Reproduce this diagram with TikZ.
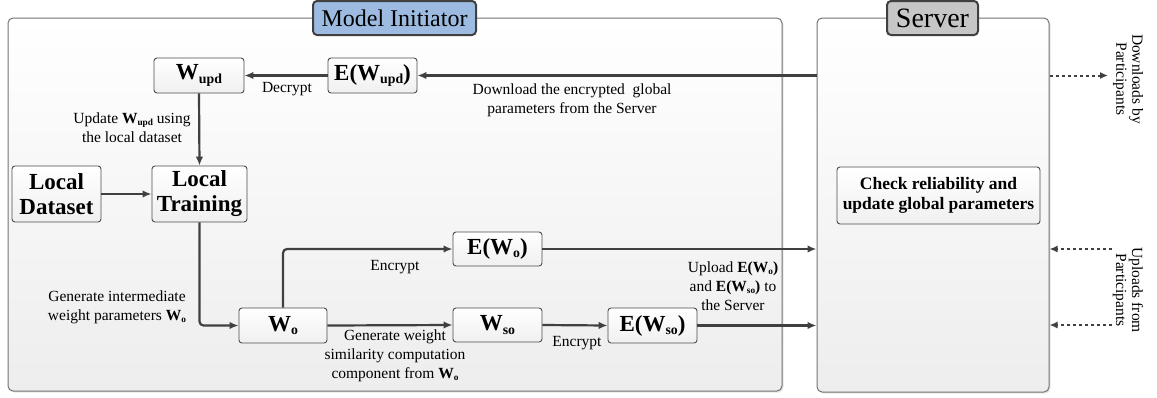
\documentclass[tikz,border=0pt]{standalone}
\usepackage{fontspec}
\setmainfont{Liberation Serif}
\usepackage{graphicx}
\usepackage{tikz}
\usetikzlibrary{arrows.meta, shadows}
\definecolor{blueedge}{HTML}{9DBBE0}
\definecolor{bluemid}{HTML}{DDE8F5}
\definecolor{grayedge}{HTML}{C6C6C6}
\definecolor{graymid}{HTML}{F2F2F2}
\newcommand{\wsub}[1]{W\raisebox{-0.3ex}{\scalebox{0.6}{#1}}}
\tikzstyle{group}=[draw=black!55, line width=1pt, rounded corners=5pt, top color=white, bottom color=gray!14, drop shadow={shadow xshift=1.5pt, shadow yshift=-1.5pt, opacity=0.2}]
\tikzstyle{titlebox}=[draw=black!75, line width=2pt, rounded corners=4pt, inner sep=0pt]
\tikzstyle{box}=[draw=black!70, line width=0.9pt, rounded corners=3pt, top color=white, bottom color=gray!12, inner sep=0pt, align=center, font=\bfseries\fontsize{23}{25}\selectfont]
\tikzstyle{lbl}=[align=center, inner sep=0pt, font=\fontsize{15.5}{19}\selectfont]
\tikzstyle{arr}=[line width=2.2pt, draw=black!75, -{Latex[length=9pt,width=7.5pt]}]
\tikzstyle{dasharr}=[line width=2pt, draw=black!75, dash pattern=on 3.5pt off 2.5pt, -{Latex[length=8pt,width=7pt]}]

\begin{document}
\begin{tikzpicture}[x=1pt,y=-1pt]
    \useasboundingbox (0,0) rectangle (1157,397);
    % the two parties
    \node[group, minimum width=774pt, minimum height=373pt] (mi) at (395,204.5) {};
    \node[group, minimum width=232pt, minimum height=374pt] (sv) at (933,205) {};
    \node[titlebox, minimum width=163pt, minimum height=34pt, top color=blueedge, middle color=bluemid, bottom color=blueedge, font=\fontsize{24}{26}\selectfont] (mititle) at (394.5,18) {Model Initiator};
    \node[titlebox, minimum width=91pt, minimum height=34pt, top color=grayedge, middle color=graymid, bottom color=grayedge, font=\fontsize{28}{30}\selectfont] (svtitle) at (932.5,18) {Server};

    % blocks
    \node[box, minimum width=90pt, minimum height=35pt] (wupd) at (199,75.5) {\wsub{upd}};
    \node[box, minimum width=89pt, minimum height=35pt] (ewupd) at (372.5,75.5) {E(\wsub{upd})};
    \node[box, minimum width=89pt, minimum height=56pt] (dataset) at (56.5,194) {Local\\Dataset};
    \node[box, minimum width=95pt, minimum height=56pt] (training) at (199.5,194) {Local\\Training};
    \node[box, minimum width=88pt, minimum height=35pt] (wo) at (283,325.5) {\wsub{o}};
    \node[box, minimum width=89pt, minimum height=34pt] (ewo) at (497.5,249) {E(\wsub{o})};
    \node[box, minimum width=89pt, minimum height=34pt] (wso) at (497.5,325) {\wsub{so}};
    \node[box, minimum width=89pt, minimum height=35pt] (ewso) at (652.5,325.5) {E(\wsub{so})};
    \node[box, minimum width=203pt, minimum height=57pt, font=\bfseries\fontsize{17.5}{20}\selectfont] (check) at (938.5,195.5) {Check reliability and\\update global parameters};

    % flows
    \draw[arr] (ewupd.east -| sv.west) -- (ewupd.east);
    \draw[arr] (ewupd.west) -- (wupd.east);
    \draw[arr] (wupd.south) -- (training.north);
    \draw[arr] (dataset.east) -- (training.west);
    \draw[arr, rounded corners=4pt] (training.south) |- (wo.west);
    \draw[arr, rounded corners=4pt] (wo.north) |- (ewo.west);
    \draw[arr] (ewo.east) -- (ewo.east -| sv.west);
    \draw[arr] (wo.east) -- (wso.west);
    \draw[arr] (wso.east) -- (ewso.west);
    \draw[arr] (ewso.east) -- (ewso.east -| sv.west);

    % participants
    \coordinate (dl) at (1108,75.5);
    \coordinate (ul1) at (1112,249);
    \coordinate (ul2) at (1112,325);
    \draw[dasharr] (sv.east |- dl) -- (dl);
    \draw[dasharr] (ul1) -- (ul1 -| sv.east);
    \draw[dasharr] (ul2) -- (ul2 -| sv.east);

    % labels
    \node[lbl] (ldown) at (572,100) {Download the encrypted \ global\\parameters from the Server};
    \node[lbl] (ldecrypt) at (287,89) {Decrypt};
    \node[lbl] (lupdate) at (132,128) {Update \textbf{\wsub{upd}} using\\the local dataset};
    \node[lbl] (lgen) at (117,307) {Generate intermediate\\weight parameters \textbf{\wsub{o}}};
    \node[lbl] (lenc1) at (395,267) {Encrypt};
    \node[lbl] (lsim) at (395,356) {Generate weight\\similarity computation\\component from \textbf{\wsub{o}}};
    \node[lbl] (lenc2) at (577,343) {Encrypt};
    \node[lbl] (lup) at (733,286) {Upload \textbf{E(\wsub{o})}\\and \textbf{E(\wsub{so})} to\\the Server};
    \node[lbl, rotate=-90, font=\fontsize{15.5}{16}\selectfont] (ldl) at (1128,79) {Downloads by\\Participants};
    \node[lbl, rotate=-90, font=\fontsize{15.5}{16}\selectfont] (lul) at (1128,290) {Uploads from\\Participants};
\end{tikzpicture}
\end{document}
